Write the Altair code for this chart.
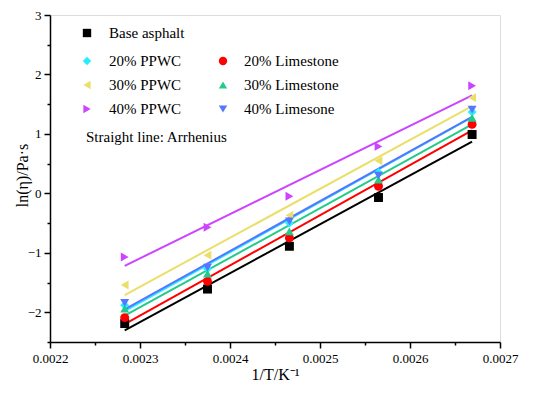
import altair as alt
import pandas as pd

# ---- data ----
x_vals = [0.002283, 0.002375, 0.002466, 0.002565, 0.002669]
series_names = ["Base asphalt", "20% PPWC", "30% PPWC", "40% PPWC",
                "20% Limestone", "30% Limestone", "40% Limesone"]
base = [-2.19, -1.61, -0.89, -0.07, 0.99]
ppwc20 = [-1.88, -1.27, -0.50, 0.35, 1.37]
ppwc30 = [-1.54, -1.04, -0.37, 0.55, 1.61]
ppwc40 = [-1.07, -0.57, -0.05, 0.79, 1.81]
lime20 = [-2.09, -1.48, -0.75, 0.12, 1.16]
lime30 = [-1.94, -1.35, -0.64, 0.23, 1.27]
lime40 = [-1.84, -1.25, -0.47, 0.30, 1.41]

colors = ["#000000", "#22EEFF", "#EADF6A", "#CC44FF", "#FF0000", "#22CC88", "#5577FF"]
shapes = ["square", "diamond", "triangle-left", "triangle-right", "circle", "triangle-up", "triangle-down"]

all_y = [base, ppwc20, ppwc30, ppwc40, lime20, lime30, lime40]
rows = []
for name, ys in zip(series_names, all_y):
    for xv, yv in zip(x_vals, ys):
        rows.append({"series": name, "x": xv, "y": yv})
df = pd.DataFrame(rows)

FONT = "Liberation Serif"
color_scale = alt.Scale(domain=series_names, range=colors)
shape_scale = alt.Scale(domain=series_names, range=shapes)

x_ticks = [round(0.0022 + i * 0.00005, 6) for i in range(11)]
y_ticks = [-2.5 + i * 0.5 for i in range(12)]

x_axis = alt.Axis(
    values=x_ticks,
    labelExpr="abs(datum.value*10000 - round(datum.value*10000)) < 0.01 ? format(datum.value, '.4f') : ''",
    tickSize={"condition": {"test": "abs(datum.value*10000 - round(datum.value*10000)) < 0.01", "value": 6}, "value": 3},
    title="1/T/K⁻¹",
    grid=False,
    labelFont=FONT, labelFontSize=13, labelColor="black",
    titleFont=FONT, titleFontSize=16, titleFontWeight="normal", titleColor="black",
    domainColor="black", domainWidth=1.5, tickColor="black", tickWidth=1.5,
    labelPadding=4, titlePadding=1, labelFlush=False,
)
y_axis = alt.Axis(
    values=y_ticks,
    labelExpr="datum.value % 1 === 0 ? replace(format(datum.value, 'd'), '-', '\u2212') : ''",
    tickSize={"condition": {"test": "datum.value % 1 === 0", "value": 6}, "value": 3},
    title="ln(η)/Pa·s",
    grid=False,
    labelFont=FONT, labelFontSize=13, labelColor="black",
    titleFont=FONT, titleFontSize=16, titleFontWeight="normal", titleColor="black",
    titleX=-28, titleY=160, titleBaseline="middle", titleAngle=270,
    domainColor="black", domainWidth=1.5, tickColor="black", tickWidth=1.5,
    labelPadding=3, labelFlush=False,
)

xenc = alt.X("x:Q", scale=alt.Scale(domain=[0.0022, 0.0027], nice=False, zero=False), axis=x_axis)
yenc = alt.Y("y:Q", scale=alt.Scale(domain=[-2.5, 3], nice=False, zero=False), axis=y_axis)

base_chart = alt.Chart(df)

lines = base_chart.transform_regression(
    "x", "y", groupby=["series"]
).mark_line(strokeWidth=2, clip=True).encode(
    x=xenc, y=yenc,
    color=alt.Color("series:N", scale=color_scale, legend=None),
    detail="series:N",
)

points = base_chart.mark_point(filled=True, size=80, opacity=1).encode(
    x=xenc, y=yenc,
    color=alt.Color("series:N", scale=color_scale, legend=None),
    shape=alt.Shape("series:N", scale=shape_scale, legend=None),
)

# ---- manual in-plot legend (pixel positions relative to plot origin) ----
leg_col = [0, 0, 0, 0, 1, 1, 1]
leg_row = [0, 1, 2, 3, 1, 2, 3]
leg_df = pd.DataFrame({"series": series_names, "col": leg_col, "row": leg_row})
leg_base = alt.Chart(leg_df).transform_calculate(
    mx="datum.col == 0 ? 37 : 173",
    tx="datum.col == 0 ? 59 : 194",
    py="datum.row == 0 ? 18 : 46 + (datum.row - 1) * 24",
)
leg_pts = leg_base.mark_point(filled=True, size=70, opacity=1).encode(
    x=alt.X("mx:Q", scale=None, axis=None),
    y=alt.Y("py:Q", scale=None, axis=None),
    color=alt.Color("series:N", scale=color_scale, legend=None),
    shape=alt.Shape("series:N", scale=shape_scale, legend=None),
)
leg_txt = leg_base.mark_text(align="left", baseline="middle", font=FONT, fontSize=15, color="black").encode(
    x=alt.X("tx:Q", scale=None, axis=None),
    y=alt.Y("py:Q", scale=None, axis=None),
    text="series:N",
)
note_df = pd.DataFrame({"t": ["Straight line: Arrhenius"]})
note = alt.Chart(note_df).mark_text(align="left", baseline="middle", font=FONT, fontSize=15, color="black").encode(
    x=alt.value(36), y=alt.value(122), text="t:N"
)

chart = alt.layer(lines, points, leg_pts, leg_txt, note).properties(
    width=450, height=327,
    autosize=alt.AutoSizeParams(type="none"),
    padding={"left": 42, "top": 7, "right": 42, "bottom": 45},
).configure_view(stroke="black", strokeWidth=1.5).configure(background="white", font=FONT)

chart.save("out.html", embed_options={"renderer": "svg", "actions": False})
